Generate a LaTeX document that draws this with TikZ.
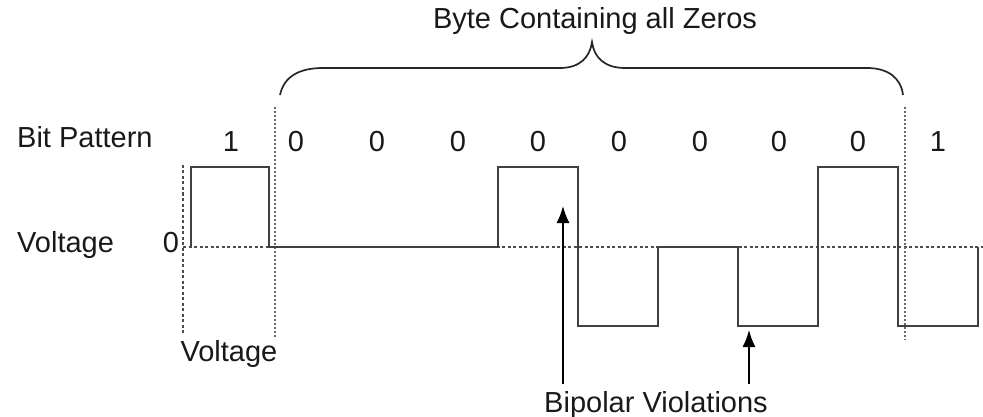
\documentclass[tikz,border=0pt]{standalone}
\usepackage{fontspec}
\setmainfont{Liberation Sans}
\usetikzlibrary{arrows.meta}
\begin{document}
\begin{tikzpicture}[x=1pt,y=-1pt,
  lbl/.style={anchor=base,inner sep=0pt,font=\fontsize{29}{34}\selectfont,text=black!90},
  wave/.style={line width=2pt,draw=black!75,line join=miter},
  refline/.style={line width=1.3pt,draw=black!70,dash pattern=on 3pt off 2.5pt},
  guide/.style={line width=1.7pt,draw=black!60,dash pattern=on 2pt off 2pt},
  brace/.style={line width=1.7pt,draw=black!85},
  marker/.style={line width=1.6pt,draw=black,-{Latex[length=17pt,width=13pt]}}]
\useasboundingbox (0,0) rectangle (983,417);

% row and axis captions
\node[lbl,anchor=base west] (bitrow) at (17,148) {Bit Pattern};
\node[lbl,anchor=base west] (voltrow) at (17,252) {Voltage};
\node[lbl] (zerolvl) at (171,252) {0};
\node[lbl] (voltaxis) at (229,361) {Voltage};
\node[lbl] (bytecap) at (595,29) {Byte Containing all Zeros};
\node[lbl] (bpv) at (656,412) {Bipolar Violations};

% bit values
\node[lbl] (b0) at (231,152) {1};
\node[lbl] (b1) at (296,152) {0};
\node[lbl] (b2) at (377,152) {0};
\node[lbl] (b3) at (458,152) {0};
\node[lbl] (b4) at (538,152) {0};
\node[lbl] (b5) at (619,152) {0};
\node[lbl] (b6) at (700,152) {0};
\node[lbl] (b7) at (779,152) {0};
\node[lbl] (b8) at (858,152) {0};
\node[lbl] (b9) at (938,152) {1};

% zero-voltage reference and vertical guides
\draw[refline] (183,247) -- (983,247);
\draw[refline] (183,165) -- (183,333);
\draw[guide] (275,107) -- (275,337);
\draw[guide] (905,107) -- (905,340);

% line signal
\draw[wave] (191,247) -- (191,167) -- (269,167) -- (269,247) -- (498,247)
  -- (498,167) -- (578,167) -- (578,326) -- (658,326) -- (658,247)
  -- (738,247) -- (738,326) -- (818,326) -- (818,167) -- (898,167)
  -- (898,326) -- (978,326) -- (978,247);

% brace over the all-zero byte
\draw[brace] (280,95) .. controls (284,76) and (300,68) .. (323,68)
  -- (560,68) .. controls (580,68) and (590,57) .. (592,42)
  .. controls (594,57) and (604,68) .. (625,68)
  -- (867,68) .. controls (888,68) and (901,78) .. (903,95);

% violation markers
\coordinate (v1tail) at (563,384);
\coordinate (v1tip) at (563,206);
\coordinate (v2tail) at (749,384);
\coordinate (v2tip) at (749,330);
\draw[marker] (v1tail) -- (v1tip);
\draw[marker] (v2tail) -- (v2tip);
\end{tikzpicture}
\end{document}
